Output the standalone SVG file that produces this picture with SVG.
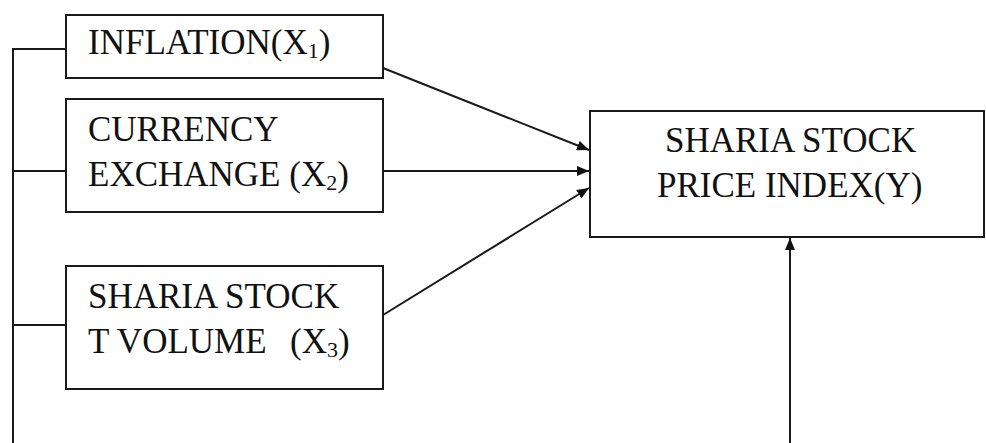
<svg xmlns="http://www.w3.org/2000/svg" width="986" height="443" viewBox="0 0 986 443">
<style>
.box{fill:#fff;stroke:#1a1a1a;stroke-width:2}
.ln{fill:none;stroke:#1a1a1a;stroke-width:2}
.t{font-family:"Liberation Serif","Times New Roman",serif;font-size:35px;fill:#111}
.sub{font-size:22px}
</style>
<defs>
<marker id="ah" viewBox="0 0 12 10" refX="12" refY="5" markerWidth="12" markerHeight="10" markerUnits="userSpaceOnUse" orient="auto">
<path d="M0,0 L12,5 L0,10 z" fill="#111"/>
</marker>
</defs>
<g id="connectors">
<path class="ln" d="M13,443 V49 H66 M13,171 H66 M13,325 H66"/>
<line class="ln" x1="383" y1="68" x2="589" y2="150" marker-end="url(#ah)"/>
<line class="ln" x1="383" y1="171" x2="589" y2="171" marker-end="url(#ah)"/>
<line class="ln" x1="383" y1="315" x2="589" y2="188" marker-end="url(#ah)"/>
<line class="ln" x1="790" y1="443" x2="790" y2="238" marker-end="url(#ah)"/>
</g>
<g id="inflation">
<rect class="box" x="66" y="15" width="317" height="63"/>
<text class="t" x="88" y="54">INFLATION(X<tspan class="sub" dy="4">1</tspan><tspan dy="-4">)</tspan></text>
</g>
<g id="currency">
<rect class="box" x="66" y="99" width="317" height="113"/>
<text class="t" x="88" y="141">CURRENCY</text>
<text class="t" x="88" y="186">EXCHANGE (X<tspan class="sub" dy="4">2</tspan><tspan dy="-4">)</tspan></text>
</g>
<g id="volume">
<rect class="box" x="66" y="266" width="317" height="123"/>
<text class="t" x="88" y="308">SHARIA STOCK</text>
<text class="t" x="88" y="353">T VOLUME <tspan x="290">(X</tspan><tspan class="sub" dy="4">3</tspan><tspan dy="-4">)</tspan></text>
</g>
<g id="index">
<rect class="box" x="590" y="111" width="394" height="126"/>
<text class="t" x="665" y="152">SHARIA STOCK</text>
<text class="t" x="657" y="197">PRICE INDEX(Y)</text>
</g>
</svg>
